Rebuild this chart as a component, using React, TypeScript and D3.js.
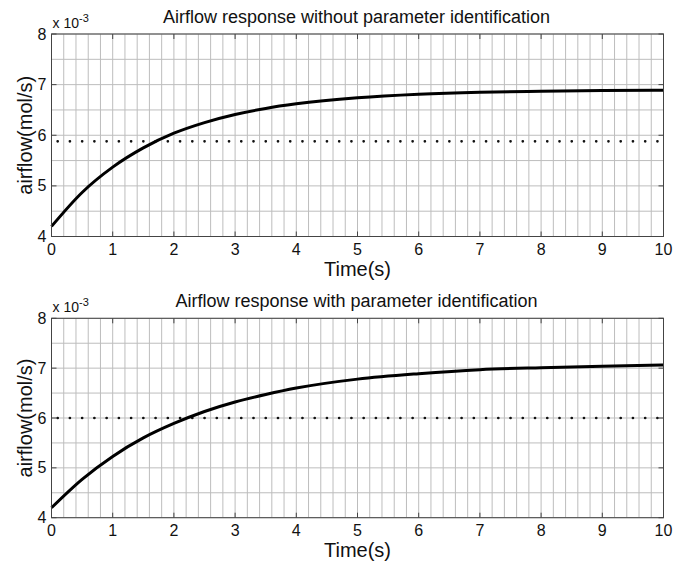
import React from "react";
import * as d3 from "d3";

const timeTop = [0, 0.5, 1, 1.5, 2, 2.5, 3, 3.5, 4, 5, 6, 7, 8, 9, 10];
const airflowTop = [4.2, 4.87, 5.37, 5.75, 6.04, 6.25, 6.41, 6.53, 6.62, 6.74, 6.81, 6.85, 6.87, 6.885, 6.89];
const refTop = 5.88;

const timeBottom = [0, 0.5, 1, 1.5, 2, 2.5, 3, 3.5, 4, 5, 6, 7, 8, 9, 10];
const airflowBottom = [4.2, 4.77, 5.23, 5.6, 5.89, 6.13, 6.32, 6.47, 6.6, 6.78, 6.89, 6.97, 7.01, 7.04, 7.064];
const refBottom = 6.0;

const xTicks = [0, 1, 2, 3, 4, 5, 6, 7, 8, 9, 10];
const yTicks = [4, 5, 6, 7, 8];
const titles = [
  "Airflow response without parameter identification",
  "Airflow response with parameter identification",
];

const FONT = "Liberation Sans, Arial, sans-serif";

function Panel({ top, bottom, title, t, v, refVal }: any) {
  const left = 51.5, right = 663.5;
  const x = d3.scaleLinear().domain([0, 10]).range([left, right]);
  const y = d3.scaleLinear().domain([4, 8]).range([bottom, top]);
  const xGrid = d3.range(0, 10.001, 0.2);
  const yGrid = d3.range(4, 8.001, 0.5);
  const line = d3
    .line<number>()
    .x((_, i) => x(t[i]))
    .y((d) => y(d))
    .curve(d3.curveMonotoneX);
  const dotSpacing = x(0.2) - x(0);
  return (
    <g>
      <text x={(left + right) / 2 - 1} y={top - 11} textAnchor="middle" fontSize={18} fontFamily={FONT} fill="#111">
        {title}
      </text>
      {xGrid.map((g, i) => (
        <line key={"xg" + i} x1={x(g)} x2={x(g)} y1={top} y2={bottom} stroke="#bdbdbd" strokeWidth={1} />
      ))}
      {yGrid.map((g, i) => (
        <line key={"yg" + i} x1={left} x2={right} y1={y(g)} y2={y(g)} stroke="#bdbdbd" strokeWidth={1} />
      ))}
      <line
        x1={x(0) + dotSpacing / 2}
        x2={right}
        y1={y(refVal)}
        y2={y(refVal)}
        stroke="#111"
        strokeWidth={2.6}
        strokeLinecap="round"
        strokeDasharray={`0.1 ${dotSpacing - 0.1}`}
      />
      <path d={line(v) || ""} fill="none" stroke="#000" strokeWidth={3} />
      <rect x={left} y={top} width={right - left} height={bottom - top} fill="none" stroke="#444" strokeWidth={1} />
      {xTicks.map((tk) => (
        <g key={"xt" + tk}>
          <line x1={x(tk)} x2={x(tk)} y1={bottom} y2={bottom - 5} stroke="#444" />
          <line x1={x(tk)} x2={x(tk)} y1={top} y2={top + 5} stroke="#444" />
          <text x={x(tk)} y={bottom + 18} textAnchor="middle" fontSize={16} fontFamily={FONT} fill="#111">
            {tk}
          </text>
        </g>
      ))}
      {yTicks.map((tk) => (
        <g key={"yt" + tk}>
          <line x1={left} x2={left + 5} y1={y(tk)} y2={y(tk)} stroke="#444" />
          <line x1={right} x2={right - 5} y1={y(tk)} y2={y(tk)} stroke="#444" />
          <text x={left - 5} y={y(tk) + 5.5} textAnchor="end" fontSize={16} fontFamily={FONT} fill="#111">
            {tk}
          </text>
        </g>
      ))}
      <text x={left + 1} y={top - 6} fontSize={14} fontFamily={FONT} fill="#111">
        x 10
        <tspan dy={-6} fontSize={11}>-3</tspan>
      </text>
      <text x={(left + right) / 2} y={bottom + 39} textAnchor="middle" fontSize={20} fontFamily={FONT} fill="#111">
        Time(s)
      </text>
      <text
        transform={`translate(${left - 20},${(top + bottom) / 2}) rotate(-90)`}
        textAnchor="middle"
        fontSize={20}
        fontFamily={FONT}
        fill="#111"
      >
        airflow(mol/s)
      </text>
    </g>
  );
}

export default function App() {
  return (
    <svg width={685} height={562} style={{ position: "absolute", left: 0, top: 0, background: "#fff" }}>
      <rect width={685} height={562} fill="#fff" />
      <Panel top={34} bottom={236.5} title={titles[0]} t={timeTop} v={airflowTop} refVal={refTop} />
      <Panel top={318.3} bottom={517.7} title={titles[1]} t={timeBottom} v={airflowBottom} refVal={refBottom} />
    </svg>
  );
}
